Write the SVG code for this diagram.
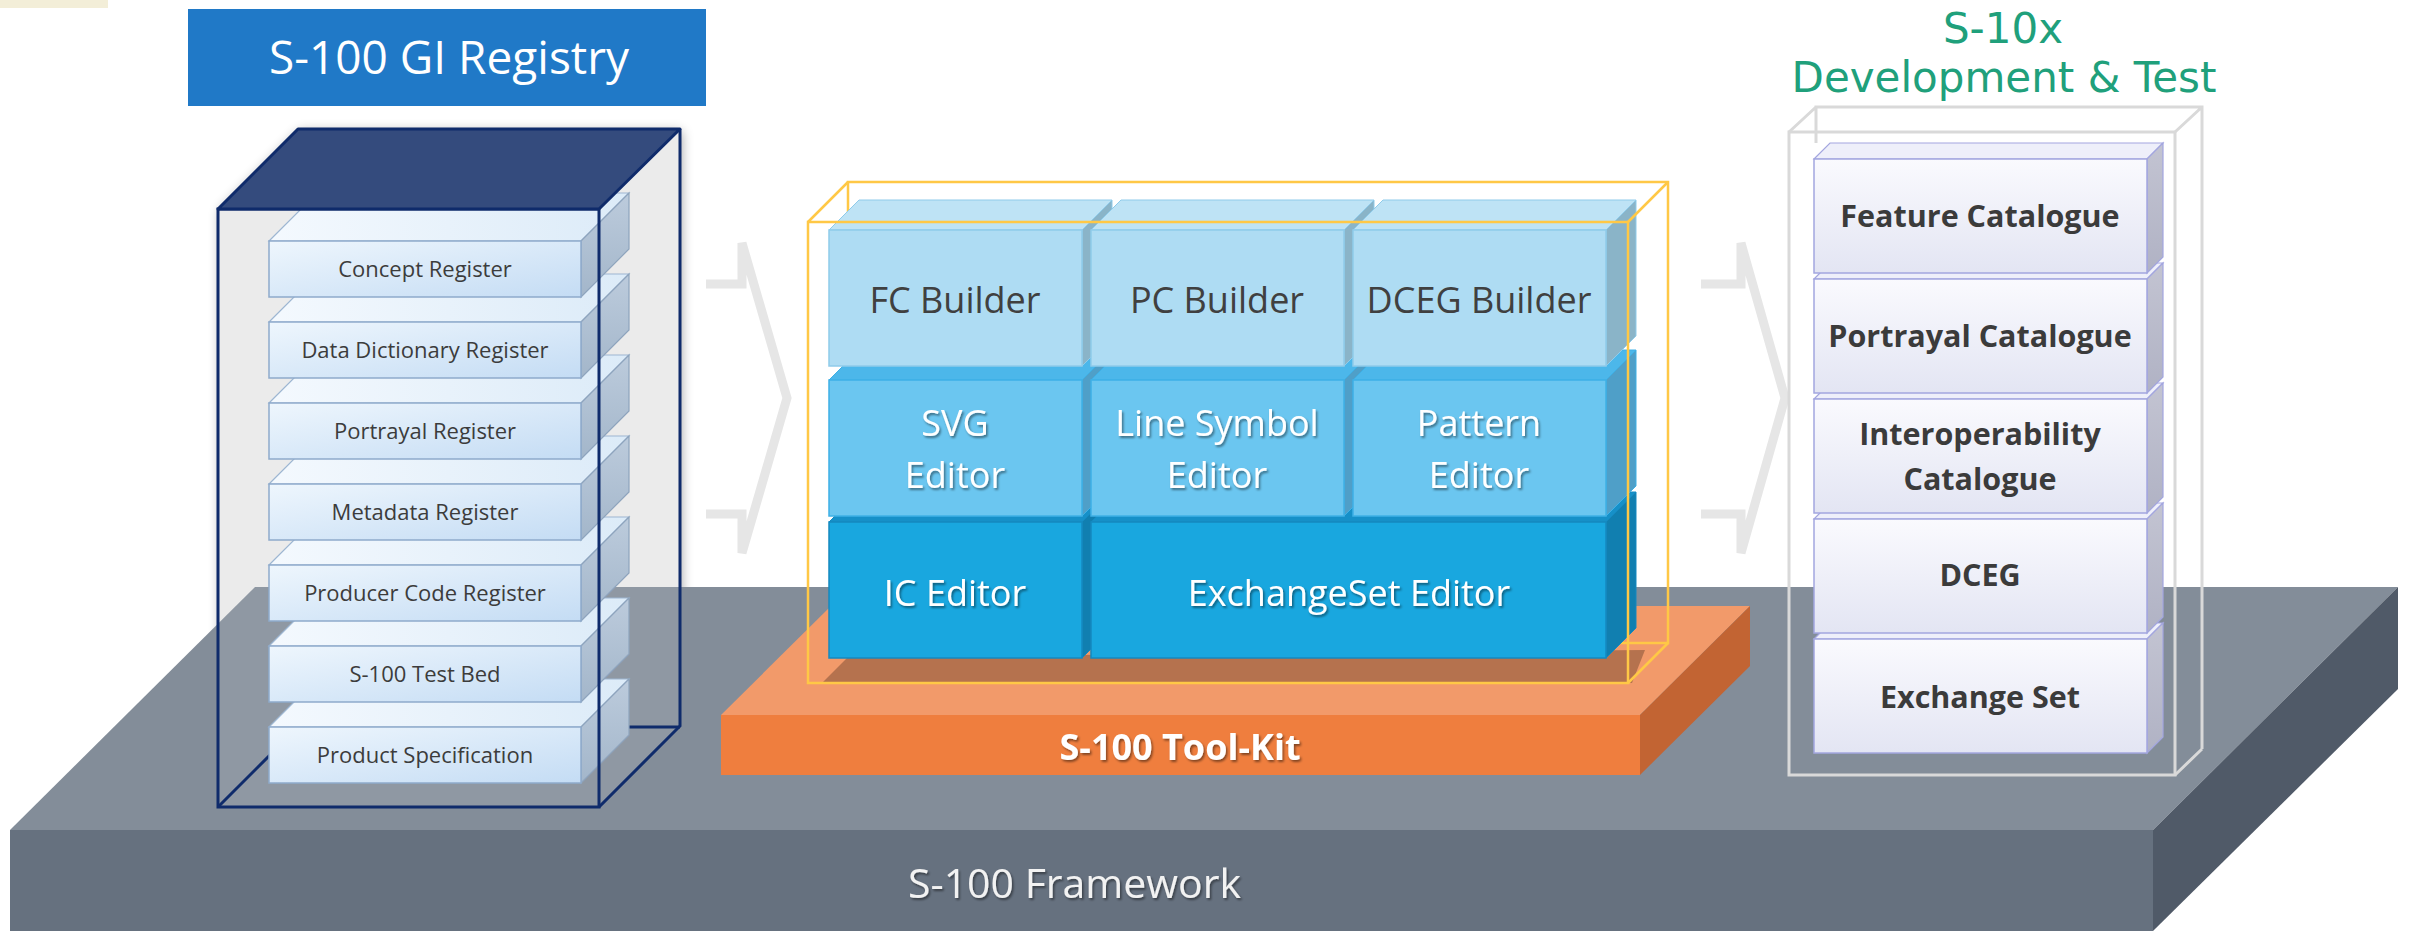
<svg xmlns="http://www.w3.org/2000/svg" width="2414" height="931" viewBox="0 0 2414 931">
<defs>
<style>
.sans{font-family:"Open Sans","Noto Sans","Liberation Sans",sans-serif}
.reg{font-family:"Open Sans","Noto Sans","Liberation Sans",sans-serif;font-size:22px;fill:#3c3c3c;text-anchor:middle}
.tk{font-family:"Open Sans","Noto Sans","Liberation Sans",sans-serif;font-size:36px;text-anchor:middle}
.tkd{fill:#404040}
.tkw{fill:#ffffff;filter:url(#ts)}
.cat{font-family:"Open Sans","Noto Sans","Liberation Sans",sans-serif;font-size:30.5px;font-weight:bold;fill:#3b3b3b;text-anchor:middle}
.chev{fill:none;stroke:#e6e6e6;stroke-width:9;stroke-linejoin:miter;stroke-miterlimit:4}
.rf{fill:url(#regFront);stroke:#8eaacb;stroke-width:1.5}
.rt{fill:url(#regTop);stroke:#9db6d2;stroke-width:1.2}
.rr{fill:url(#regRight);stroke:#8ea4bd;stroke-width:1.2}
.f0{fill:#aedcf3;stroke:#8fcbea;stroke-width:1.5}
.t0{fill:#bee3f5;stroke:#8fcbea;stroke-width:1}
.s0{fill:#8ab4c8;stroke:#8fcbea;stroke-width:1}
.f1{fill:#6bc6f0;stroke:#3eb0e6;stroke-width:1.5}
.t1{fill:#4cb7ea;stroke:#3eb0e6;stroke-width:1}
.s1{fill:#4f9fc8;stroke:#3eb0e6;stroke-width:1}
.f2{fill:#19a7df;stroke:#1589c0;stroke-width:1.5}
.t2{fill:#1690c8;stroke:#1589c0;stroke-width:1}
.s2{fill:#117fb0;stroke:#1589c0;stroke-width:1}
.cf{fill:url(#catFront);stroke:#a3a6df;stroke-width:1.5}
.ct{fill:#eeeffa;stroke:#a3a6df;stroke-width:1.2}
.cr{fill:url(#catRight);stroke:#a3a6df;stroke-width:1.2}
.navy{fill:none;stroke:#0f2b6b;stroke-width:3}
.yel{fill:none;stroke:#ffc846;stroke-width:2.5}
.gry{fill:none;stroke:#d9d9d9;stroke-width:3}
</style>
<linearGradient id="regFront" x1="0" y1="0" x2="1" y2="1">
<stop offset="0" stop-color="#eef6fd"/><stop offset="1" stop-color="#c4dcf4"/>
</linearGradient>
<linearGradient id="regTop" x1="0" y1="0" x2="1" y2="0">
<stop offset="0" stop-color="#f4f9fe"/><stop offset="1" stop-color="#dcebf8"/>
</linearGradient>
<linearGradient id="regRight" x1="0" y1="0" x2="0" y2="1">
<stop offset="0" stop-color="#bccbdc"/><stop offset="1" stop-color="#a3b6ca"/>
</linearGradient>
<linearGradient id="catFront" x1="0" y1="0" x2="0" y2="1">
<stop offset="0" stop-color="#fafafe"/><stop offset="1" stop-color="#e3e5f3"/>
</linearGradient>
<linearGradient id="catRight" x1="0" y1="0" x2="0" y2="1">
<stop offset="0" stop-color="#c3c4d2"/><stop offset="1" stop-color="#b0b2c4"/>
</linearGradient>
<filter id="sh" x="-15%" y="-15%" width="130%" height="130%">
<feGaussianBlur in="SourceAlpha" stdDeviation="6"/>
<feOffset dx="2" dy="2"/>
<feComponentTransfer><feFuncA type="linear" slope="0.35"/></feComponentTransfer>
<feMerge><feMergeNode/><feMergeNode in="SourceGraphic"/></feMerge>
</filter>
<filter id="ts" x="-10%" y="-30%" width="120%" height="160%">
<feDropShadow dx="1.5" dy="2" stdDeviation="1.2" flood-color="#000" flood-opacity="0.45"/>
</filter>
</defs>

<rect width="2414" height="931" fill="#ffffff"/>
<rect id="corner-tab" x="0" y="0" width="108" height="8" fill="#f3eed8"/>

<!-- registry back panel (behind platform) -->
<g id="registry-back">
<polygon points="218,209 298,129 680,129 680,726 599,807 218,807" fill="#e9e9e9" filter="url(#sh)"/>
</g>

<!-- S-100 Framework platform -->
<g id="framework">
<polygon points="10,830 255,587 2398,587 2153,830" fill="#838d99"/>
<rect x="10" y="830" width="2143" height="101" fill="#66717f"/>
<polygon points="2153,830 2398,587 2398,689 2153,931" fill="#505a68"/>
<text x="908" y="898" class="sans" font-size="41" fill="#f2f2f2" filter="url(#ts)">S-100 Framework</text>
</g>

<!-- connectors (chevrons) -->
<g id="connectors">
<path class="chev" d="M706,284 H742 V243 L787,398 L742,553 V514 H706"/>
<path class="chev" d="M1701,284 H1741 V243 L1785,398 L1741,553 V514 H1701"/>
</g>

<!-- S-100 GI Registry -->
<g id="gi-title">
<rect x="188" y="9" width="518" height="97" fill="#2079c7"/>
<text x="449" y="74" class="sans" font-size="46" fill="#ffffff" text-anchor="middle">S-100 GI Registry</text>
</g>

<g id="registry">
<polygon points="218,209 298,129 680,129 680,726 599,807 218,807" fill="#ffffff" fill-opacity="0.1"/>
<!-- back edges -->
<path class="navy" d="M218,807 L298,727 H680"/>
<g id="reg-product-spec">
<polygon class="rt" points="269,727 317,679 629,679 581,727"/>
<polygon class="rr" points="581,727 629,679 629,735 581,783"/>
<rect class="rf" x="269" y="727" width="312" height="56"/>
<text class="reg" x="425" y="763">Product Specification</text>
</g>
<g id="reg-test-bed">
<polygon class="rt" points="269,646 317,598 629,598 581,646"/>
<polygon class="rr" points="581,646 629,598 629,654 581,702"/>
<rect class="rf" x="269" y="646" width="312" height="56"/>
<text class="reg" x="425" y="682">S-100 Test Bed</text>
</g>
<g id="reg-producer-code">
<polygon class="rt" points="269,565 317,517 629,517 581,565"/>
<polygon class="rr" points="581,565 629,517 629,573 581,621"/>
<rect class="rf" x="269" y="565" width="312" height="56"/>
<text class="reg" x="425" y="601">Producer Code Register</text>
</g>
<g id="reg-metadata">
<polygon class="rt" points="269,484 317,436 629,436 581,484"/>
<polygon class="rr" points="581,484 629,436 629,492 581,540"/>
<rect class="rf" x="269" y="484" width="312" height="56"/>
<text class="reg" x="425" y="520">Metadata Register</text>
</g>
<g id="reg-portrayal">
<polygon class="rt" points="269,403 317,355 629,355 581,403"/>
<polygon class="rr" points="581,403 629,355 629,411 581,459"/>
<rect class="rf" x="269" y="403" width="312" height="56"/>
<text class="reg" x="425" y="439">Portrayal Register</text>
</g>
<g id="reg-data-dictionary">
<polygon class="rt" points="269,322 317,274 629,274 581,322"/>
<polygon class="rr" points="581,322 629,274 629,330 581,378"/>
<rect class="rf" x="269" y="322" width="312" height="56"/>
<text class="reg" x="425" y="358">Data Dictionary Register</text>
</g>
<g id="reg-concept">
<polygon class="rt" points="269,241 317,193 629,193 581,241"/>
<polygon class="rr" points="581,241 629,193 629,249 581,297"/>
<rect class="rf" x="269" y="241" width="312" height="56"/>
<text class="reg" x="425" y="277">Concept Register</text>
</g>
<!-- front edges and top -->
<path class="navy" d="M599,807 L680,726 V129"/>
<rect class="navy" x="218" y="209" width="381" height="598"/>
<polygon points="218,209 298,129 680,129 599,209" fill="#344b7d" stroke="#0f2b6b" stroke-width="3" stroke-linejoin="round"/>
</g>

<!-- S-100 Tool-Kit -->
<g id="toolkit">
<polygon points="721,715 831,606 1750,606 1640,715" fill="#f29a6a"/>
<rect x="721" y="715" width="919" height="60" fill="#ef7e3e"/>
<polygon points="1640,715 1750,606 1750,666 1640,775" fill="#c26433"/>
<polygon points="822,683 848,657 1645,650 1632,683" fill="#b5724e"/>
<text x="1180" y="760" class="sans" font-size="36" font-weight="bold" fill="#ffffff" text-anchor="middle" filter="url(#ts)">S-100 Tool-Kit</text>
<!-- yellow frame back edges -->
<path class="yel" d="M848,643 V182 H1668 V643 H848"/>
<!-- row 3 -->
<g id="tk-ic-editor">
<polygon class="t2" points="829,522 859,492 1112,492 1082,522"/>
<polygon class="s2" points="1082,522 1112,492 1112,628 1082,658"/>
<rect class="f2" x="829" y="522" width="253" height="136"/>
<text class="tk tkw" x="955" y="606">IC Editor</text>
</g>
<g id="tk-exchangeset-editor">
<polygon class="t2" points="1091,522 1121,492 1636,492 1606,522"/>
<polygon class="s2" points="1606,522 1636,492 1636,628 1606,658"/>
<rect class="f2" x="1091" y="522" width="515" height="136"/>
<text class="tk tkw" x="1349" y="606">ExchangeSet Editor</text>
</g>
<!-- row 2 -->
<g id="tk-svg-editor">
<polygon class="t1" points="829,380 859,350 1112,350 1082,380"/>
<polygon class="s1" points="1082,380 1112,350 1112,486 1082,516"/>
<rect class="f1" x="829" y="380" width="253" height="136"/>
<text class="tk tkw" x="955" y="436">SVG</text>
<text class="tk tkw" x="955" y="488">Editor</text>
</g>
<g id="tk-line-symbol-editor">
<polygon class="t1" points="1091,380 1121,350 1374,350 1344,380"/>
<polygon class="s1" points="1344,380 1374,350 1374,486 1344,516"/>
<rect class="f1" x="1091" y="380" width="253" height="136"/>
<text class="tk tkw" x="1217" y="436">Line Symbol</text>
<text class="tk tkw" x="1217" y="488">Editor</text>
</g>
<g id="tk-pattern-editor">
<polygon class="t1" points="1353,380 1383,350 1636,350 1606,380"/>
<polygon class="s1" points="1606,380 1636,350 1636,486 1606,516"/>
<rect class="f1" x="1353" y="380" width="253" height="136"/>
<text class="tk tkw" x="1479" y="436">Pattern</text>
<text class="tk tkw" x="1479" y="488">Editor</text>
</g>
<!-- row 1 -->
<g id="tk-fc-builder">
<polygon class="t0" points="829,230 859,200 1112,200 1082,230"/>
<polygon class="s0" points="1082,230 1112,200 1112,336 1082,366"/>
<rect class="f0" x="829" y="230" width="253" height="136"/>
<text class="tk tkd" x="955" y="313">FC Builder</text>
</g>
<g id="tk-pc-builder">
<polygon class="t0" points="1091,230 1121,200 1374,200 1344,230"/>
<polygon class="s0" points="1344,230 1374,200 1374,336 1344,366"/>
<rect class="f0" x="1091" y="230" width="253" height="136"/>
<text class="tk tkd" x="1217" y="313">PC Builder</text>
</g>
<g id="tk-dceg-builder">
<polygon class="t0" points="1353,230 1383,200 1636,200 1606,230"/>
<polygon class="s0" points="1606,230 1636,200 1636,336 1606,366"/>
<rect class="f0" x="1353" y="230" width="253" height="136"/>
<text class="tk tkd" x="1479" y="313">DCEG Builder</text>
</g>
<!-- yellow frame front -->
<path class="yel" d="M808,222 L848,182 M1628,222 L1668,182 M1628,683 L1668,643"/>
<rect class="yel" x="808" y="222" width="820" height="461"/>
</g>

<!-- S-10x Development & Test -->
<g id="s10x">
<text x="2003" y="43" font-family="'DejaVu Sans','Liberation Sans',sans-serif" font-size="42" fill="#20a07b" text-anchor="middle">S-10x</text>
<text x="2004" y="92" font-family="'DejaVu Sans','Liberation Sans',sans-serif" font-size="42" fill="#20a07b" text-anchor="middle">Development &amp; Test</text>
<path class="gry" d="M1816,143 V107 H2202 V749 M1789,132 L1816,107 M2175,132 L2202,107 M2175,775 L2202,749"/>
<g id="cat-exchange-set">
<polygon class="ct" points="1814,639 1830,623 2163,623 2147,639"/>
<polygon class="cr" points="2147,639 2163,623 2163,737 2147,753"/>
<rect class="cf" x="1814" y="639" width="333" height="114"/>
<text class="cat" x="1980" y="708">Exchange Set</text>
</g>
<g id="cat-dceg">
<polygon class="ct" points="1814,519 1830,503 2163,503 2147,519"/>
<polygon class="cr" points="2147,519 2163,503 2163,617 2147,633"/>
<rect class="cf" x="1814" y="519" width="333" height="114"/>
<text class="cat" x="1980" y="586">DCEG</text>
</g>
<g id="cat-interoperability">
<polygon class="ct" points="1814,399 1830,383 2163,383 2147,399"/>
<polygon class="cr" points="2147,399 2163,383 2163,497 2147,513"/>
<rect class="cf" x="1814" y="399" width="333" height="114"/>
<text class="cat" x="1980" y="445">Interoperability</text>
<text class="cat" x="1980" y="490">Catalogue</text>
</g>
<g id="cat-portrayal">
<polygon class="ct" points="1814,279 1830,263 2163,263 2147,279"/>
<polygon class="cr" points="2147,279 2163,263 2163,377 2147,393"/>
<rect class="cf" x="1814" y="279" width="333" height="114"/>
<text class="cat" x="1980" y="347">Portrayal Catalogue</text>
</g>
<g id="cat-feature">
<polygon class="ct" points="1814,159 1830,143 2163,143 2147,159"/>
<polygon class="cr" points="2147,159 2163,143 2163,257 2147,273"/>
<rect class="cf" x="1814" y="159" width="333" height="114"/>
<text class="cat" x="1980" y="227">Feature Catalogue</text>
</g>
<rect class="gry" x="1789" y="132" width="386" height="643"/>
</g>
</svg>
